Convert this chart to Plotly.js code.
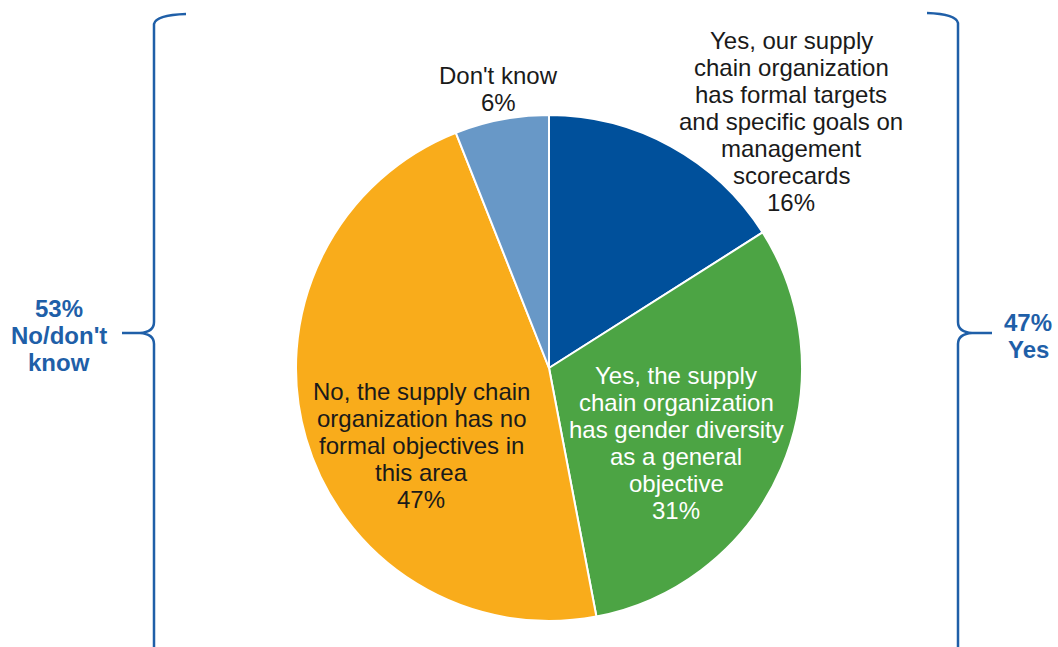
<!DOCTYPE html>
<html>
<head>
<meta charset="utf-8">
<script src="https://cdn.plot.ly/plotly-3.0.1.min.js"></script>
<style>html,body{margin:0;padding:0;background:#fff;}#chart{width:1058px;height:647px;}</style>
</head>
<body>
<div id="chart"></div>
<script>
// ---- data ----
const categories = [
  "Yes, our supply chain organization has formal targets and specific goals on management scorecards",
  "Yes, the supply chain organization has gender diversity as a general objective",
  "No, the supply chain organization has no formal objectives in this area",
  "Don't know"
];
const values = [16, 31, 47, 6];
const labelLines = [
  ["Yes, our supply", "chain organization", "has formal targets", "and specific goals on", "management", "scorecards"],
  ["Yes, the supply", "chain organization", "has gender diversity", "as a general", "objective"],
  ["No, the supply chain", "organization has no", "formal objectives in", "this area"],
  ["Don't know"]
];
const groupLabels = [["53%", "No/don't", "know"], ["47%", "Yes"]];

// ---- styles / layout ----
const colors = ["#00509b", "#4ca444", "#f9ac1b", "#6898c7"];
const textColors = ["#1a1a1a", "#ffffff", "#1a1a1a", "#1a1a1a"];
const labelAnchor = [[791, 40], [676, 375], [421, 391], [498, 75]]; // centre x, first line y (px)
const lineGap = 27;
const braceColor = "#1f5fa8";

const W = 1058, H = 647;
const annotations = [];
labelLines.forEach((lines, i) => {
  const all = lines.concat([values[i] + "%"]);
  all.forEach((t, j) => {
    annotations.push({
      xref: "x", yref: "y", x: labelAnchor[i][0], y: labelAnchor[i][1] + j * lineGap,
      text: t, showarrow: false, xanchor: "center", yanchor: "middle",
      font: {family: "Liberation Sans, Arial, sans-serif", size: 24, color: textColors[i]}
    });
  });
});
const groupAnchor = [[59, 308], [1028, 322]];
groupLabels.forEach((lines, i) => {
  lines.forEach((t, j) => {
    annotations.push({
      xref: "x", yref: "y", x: groupAnchor[i][0], y: groupAnchor[i][1] + j * lineGap,
      text: "<b>" + t + "</b>", showarrow: false, xanchor: "center", yanchor: "middle",
      font: {family: "Liberation Sans, Arial, sans-serif", size: 24, color: braceColor}
    });
  });
});

const shapes = [
  {type: "path", xref: "x", yref: "y",
   path: "M186,14 Q156,15 154,24 L154,322 Q154,332 140,333 L122,333 M140,333 Q154,334 154,344 L154,660",
   line: {color: braceColor, width: 2.5}},
  {type: "path", xref: "x", yref: "y",
   path: "M927,13 Q956,14 958,23 L958,322 Q958,332 972,333 L992,333 M972,333 Q958,334 958,344 L958,660",
   line: {color: braceColor, width: 2.5}}
];

const cx = 549, cy = 368, r = 253;
const trace = {
  type: "pie",
  labels: categories,
  values: values,
  sort: false,
  direction: "clockwise",
  rotation: 0,
  marker: {colors: colors, line: {color: "#ffffff", width: 2}},
  textinfo: "none",
  hoverinfo: "label+percent",
  showlegend: false,
  domain: {x: [(cx - r) / W, (cx + r) / W], y: [(H - cy - r) / H, (H - cy + r) / H]}
};

const layout = {
  width: W, height: H,
  margin: {l: 0, r: 0, t: 0, b: 0},
  paper_bgcolor: "#ffffff", plot_bgcolor: "rgba(0,0,0,0)",
  xaxis: {range: [0, W], visible: false, fixedrange: true},
  yaxis: {range: [H, 0], visible: false, fixedrange: true},
  showlegend: false,
  annotations: annotations,
  shapes: shapes
};

Plotly.newPlot("chart", [trace], layout, {displayModeBar: false, staticPlot: true});
</script>
</body>
</html>
